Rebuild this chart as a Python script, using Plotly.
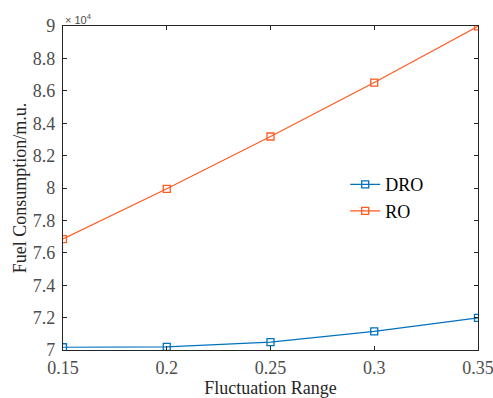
import plotly.graph_objects as go

x_vals = [0.15, 0.2, 0.25, 0.3, 0.35]
dro = [70170, 70190, 70490, 71150, 71980]
ro = [76850, 79950, 83180, 86510, 89980]
x_ticks = [0.15, 0.2, 0.25, 0.3, 0.35]
x_ticktext = ["0.15", "0.2", "0.25", "0.3", "0.35"]
y_ticks = [70000, 72000, 74000, 76000, 78000, 80000, 82000, 84000, 86000, 88000, 90000]
y_ticktext = ["7", "7.2", "7.4", "7.6", "7.8", "8", "8.2", "8.4", "8.6", "8.8", "9"]

fig = go.Figure()
fig.add_trace(go.Scatter(x=x_vals, y=dro, name="DRO", mode="lines+markers",
                         line=dict(color="#0072BD", width=1.2),
                         marker=dict(symbol="square-open", size=7, color="#0072BD", line=dict(width=1.3))))
fig.add_trace(go.Scatter(x=x_vals, y=ro, name="RO", mode="lines+markers",
                         line=dict(color="#FF5A1F", width=1.2),
                         marker=dict(symbol="square-open", size=7, color="#FF5A1F", line=dict(width=1.3))))

axis_common = dict(showline=True, linecolor="#262626", linewidth=1.3, mirror="ticks",
                   ticks="inside", ticklen=4, tickcolor="#262626", showgrid=False, zeroline=False,
                   automargin=False, ticklabeloverflow="allow",
                   tickfont=dict(family="Liberation Serif", size=18, color="#4d4d4d"))
fig.update_xaxes(range=[0.15, 0.35], tickvals=x_ticks, ticktext=x_ticktext, ticklabelstandoff=1,
                 title=dict(text="Fluctuation Range", font=dict(family="Liberation Serif", size=18, color="#262626"), standoff=1),
                 **axis_common)
fig.update_yaxes(range=[70000, 90000], tickvals=y_ticks, ticktext=y_ticktext, ticklabelstandoff=3,
                 title=dict(text="Fuel Consumption/m.u.", font=dict(family="Liberation Serif", size=18, color="#262626"), standoff=1),
                 **axis_common)

fig.add_annotation(text="× 10<sup>4</sup>", xref="paper", yref="paper", x=0, y=1,
                   xanchor="left", yanchor="bottom", showarrow=False, xshift=0, yshift=-2,
                   font=dict(family="Liberation Sans", size=11, color="#4d4d4d"))

fig.update_layout(width=493, height=398, margin=dict(l=63, r=15, t=26, b=48),
                  plot_bgcolor="white", paper_bgcolor="white",
                  legend=dict(x=0.68, y=0.47, xanchor="left", yanchor="middle",
                              bgcolor="rgba(0,0,0,0)", tracegroupgap=0,
                              font=dict(family="Liberation Serif", size=18, color="black")))
fig.write_html("out.html")
